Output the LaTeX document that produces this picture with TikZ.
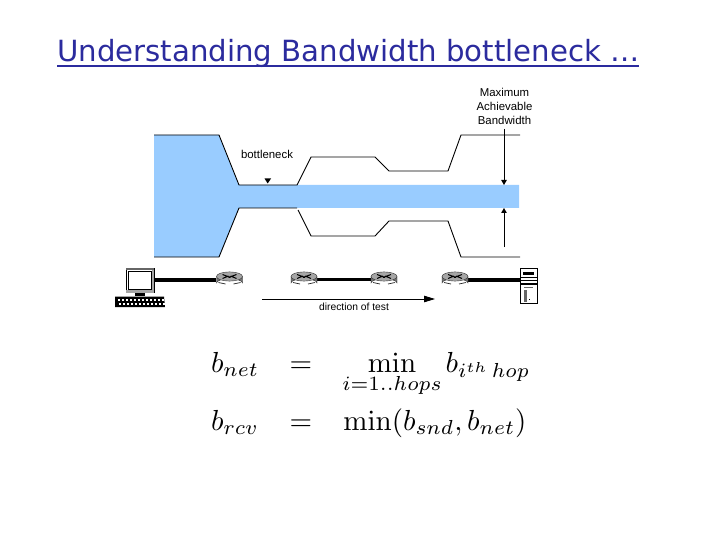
\documentclass[tikz,border=0pt]{standalone}
\usepackage[no-math]{fontspec}
\usepackage{amsmath}
\setmainfont{Liberation Sans}
\newfontfamily\titlefont{DejaVu Sans}
\usetikzlibrary{arrows.meta}
\definecolor{pipe}{HTML}{99CCFF}
\definecolor{titleblue}{HTML}{2B2B9E}
\tikzset{
  edgeline/.style={black,line width=0.9pt},
  lbl/.style={inner sep=0pt,font=\fontsize{11.4}{14}\selectfont,align=center},
  formula/.style={inner sep=0pt,scale=2.9},
  routerbox/.style={minimum width=26pt,minimum height=16pt,inner sep=0pt},
  fatlink/.style={black,line width=4pt},
  thinlink/.style={black,line width=2.2pt},
  meas/.style={black,line width=0.9pt,-{Triangle[length=5pt,width=5.5pt]}}
}
\begin{document}
\begin{tikzpicture}[x=1pt,y=-1pt]
\useasboundingbox (0,0) rectangle (720,540);
\fill[white] (0,0) rectangle (720,540);
% title
\node[inner sep=0pt,anchor=base west,text=titleblue,font=\titlefont\fontsize{29.2}{32}\selectfont] (title) at (57,61.5) {Understanding Bandwidth bottleneck …};
\draw[titleblue,line width=1.4pt] (57,66) -- (639,66);
% pipe
\fill[pipe] (154,135) -- (219,135) -- (239,185) -- (519,185) -- (519,208) -- (239,208) -- (219,257) -- (154,257) -- cycle;
\draw[edgeline] (154,135) -- (219,135) -- (239,185) -- (297,185) -- (311,157) -- (375,157) -- (389,171) -- (448,171) -- (461,135) -- (520,135);
\draw[edgeline] (154,257) -- (219,257) -- (239,208) -- (297,208);
\draw[edgeline] (298,210) -- (311,236) -- (375,236) -- (389,221) -- (448,221) -- (461,257) -- (520,257);
% labels
\node[lbl,anchor=center] (bn) at (267,154) {bottleneck};
\node[lbl,anchor=center] (mab) at (504.5,106.5) {Maximum\\Achievable\\Bandwidth};
\node[lbl,anchor=center,font=\fontsize{10.3}{14}\selectfont] (dot) at (354,306.5) {direction of test};
% bottleneck marker
\fill[black] (264.5,178.5) -- (271,178.5) -- (267.7,183.5) -- cycle;
% measuring arrows
\coordinate (mt) at (504,129);
\coordinate (mtEnd) at (504,185);
\coordinate (mb) at (504,247);
\coordinate (mbEnd) at (504,208);
\draw[meas] (mt) -- (mtEnd);
\draw[meas] (mb) -- (mbEnd);
% devices
\node[routerbox] (r1) at (229.5,279.5) {};
\node[routerbox] (r2) at (304,279.5) {};
\node[routerbox] (r3) at (384,279.5) {};
\node[routerbox] (r4) at (455,279.5) {};
\node[minimum width=28pt,minimum height=25pt,inner sep=0pt] (pc) at (140,280.5) {};
\node[minimum width=17pt,minimum height=35pt,inner sep=0pt] (srv) at (528.5,285.5) {};
\draw[fatlink] (pc.east|-r1.west) -- (r1.west);
\draw[thinlink] (r2.east) -- (r3.west);
\draw[fatlink] (r4.east) -- (srv.west|-r4.east);
\foreach \r in {r1,r2,r3,r4}{
  \begin{scope}[shift={(\r.center)}]
    \fill[black!55,draw=black!80,line width=0.4pt] (-13,-3) -- (-13,3.5) arc[start angle=180,end angle=360,x radius=13,y radius=4.2] -- (13,-3) -- cycle;
    \fill[black!35,draw=black!80,line width=0.4pt] (0,-3) ellipse[x radius=13,y radius=4.6];
    \draw[black,line width=1pt] (-7,-5) -- (1,-2) (7,-5) -- (-1,-2) (-7,-1) -- (-1,-3.5) (7,-1) -- (1,-3.5);
    \draw[black!85,line width=0.7pt] (-11,3) -- (-4,4.5) (4,4.5) -- (11,3);
  \end{scope}
}
% computer
\begin{scope}[shift={(pc.center)}]
  \fill[white,draw=black,line width=0.8pt] (-14,-12.5) rectangle (14,12);
  \fill[black!60] (-14,-12.5) rectangle (14,-10.5);
  \fill[black!35] (11.5,-10.5) rectangle (14,12);
  \fill[black!35] (-14,9) rectangle (14,12);
  \draw[black,line width=0.8pt] (-12,-9.5) rectangle (11.5,8.5);
  \fill[black] (-5,12) rectangle (5,15);
  \fill[black] (-25,16) -- (24,16) -- (25,26.5) -- (-25,26.5) -- cycle;
  \foreach \i in {-22,-18,...,22}{
    \fill[white] (\i,18) rectangle (\i+2.2,20);
    \fill[white] (\i+1,22) rectangle (\i+3,24);
  }
\end{scope}
% server
\begin{scope}[shift={(srv.center)}]
  \fill[white,draw=black,line width=0.8pt] (-8.5,-17.5) rectangle (8.5,17.5);
  \fill[black] (-6,-14) rectangle (5,-11);
  \fill[black] (-8.5,-2.5) rectangle (8.5,-0.5);
  \fill[black!60] (-5,1) rectangle (4,2.5);
  \fill[black!60] (-5,4) rectangle (-2,16);
  \fill[black] (0.5,13) rectangle (1.5,14);
  \draw[black,line width=0.6pt] (-8.5,-8) -- (8.5,-8) (-8.5,-5) -- (8.5,-5);
\end{scope}
% direction arrow
\coordinate (ds) at (262,299);
\coordinate (de) at (435,299);
\draw[edgeline,-{Triangle[length=11pt,width=6.5pt]}] (ds) -- (de);
% formulas
\node[formula,anchor=base] (f1a) at (235,372) {$b_{net}$};
\node[formula,anchor=base] (f1b) at (301,372) {$=$};
\node[formula,anchor=base] (f1c) at (392,372) {$\displaystyle\min_{i=1..hops}$};
\node[formula,anchor=base] (f1e) at (488,372) {$b_{i^{th}\,hop}$};
\node[formula,anchor=base] (f2a) at (235,430) {$b_{rcv}$};
\node[formula,anchor=base] (f2b) at (301,430) {$=$};
\node[formula,anchor=base] (f2c) at (435,430) {$\min(b_{snd},b_{net})$};
\end{tikzpicture}
\end{document}
